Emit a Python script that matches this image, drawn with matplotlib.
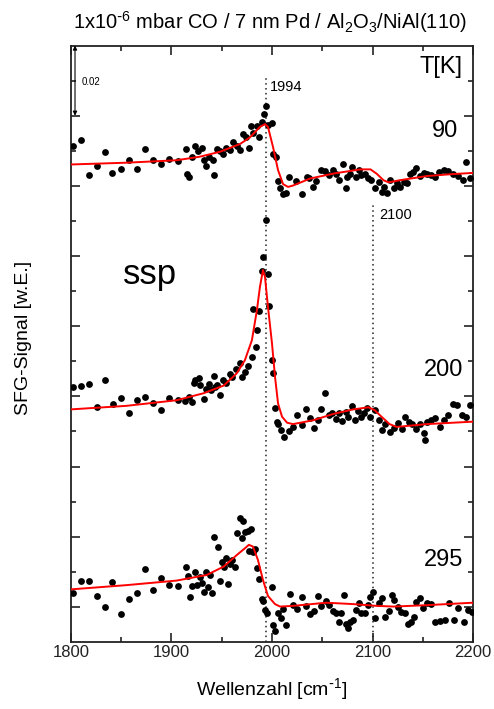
import matplotlib
matplotlib.use("Agg")
import matplotlib.pyplot as plt
from matplotlib.ticker import MultipleLocator, FixedLocator

plt.rcParams['font.family'] = ['Liberation Sans', 'DejaVu Sans']
plt.rcParams['mathtext.default'] = 'regular'

# --- 90 K spectrum (measured points + fit) ---
wn_90 = [1802, 1810, 1818, 1826, 1834, 1841, 1850, 1858, 1866, 1874, 1882, 1890, 1898, 1906,
         1914, 1915, 1917, 1920, 1923, 1926, 1930, 1932, 1934, 1937, 1942, 1941, 1945, 1948,
         1951, 1954, 1958, 1961, 1965, 1968, 1971, 1974, 1977, 1979, 1981, 1985, 1987, 1990,
         1992, 1994, 1996, 2000, 2001, 2004, 2006, 2008, 2011, 2014, 2017, 2024, 2030, 2035,
         2037, 2041, 2044, 2049, 2053, 2057, 2061, 2064, 2067, 2071, 2074, 2075, 2078, 2080,
         2084, 2087, 2089, 2093, 2096, 2099, 2102, 2106, 2109, 2111, 2114, 2117, 2121, 2124,
         2127, 2131, 2134, 2137, 2140, 2143, 2147, 2151, 2154, 2158, 2162, 2166, 2171, 2175,
         2180, 2185, 2190, 2193, 2197]
sig_90 = [0.1413, 0.1430, 0.1330, 0.1356, 0.1396, 0.1336, 0.1348, 0.1373, 0.1347, 0.1405,
          0.1375, 0.1362, 0.1377, 0.1370, 0.1405, 0.1335, 0.1326, 0.1383, 0.1415, 0.1398,
          0.1409, 0.1373, 0.1358, 0.1381, 0.1330, 0.1375, 0.1404, 0.1400, 0.1392, 0.1409,
          0.1402, 0.1426, 0.1413, 0.1402, 0.1447, 0.1440, 0.1407, 0.1472, 0.1451, 0.1472,
          0.1440, 0.1482, 0.1506, 0.1527, 0.1474, 0.1478, 0.1392, 0.1383, 0.1314, 0.1293,
          0.1278, 0.1280, 0.1326, 0.1313, 0.1278, 0.1326, 0.1322, 0.1297, 0.1313, 0.1345,
          0.1341, 0.1331, 0.1345, 0.1335, 0.1316, 0.1362, 0.1293, 0.1324, 0.1335, 0.1354,
          0.1326, 0.1345, 0.1330, 0.1335, 0.1321, 0.1316, 0.1293, 0.1311, 0.1283, 0.1297,
          0.1280, 0.1316, 0.1293, 0.1307, 0.1297, 0.1311, 0.1307, 0.1335, 0.1340, 0.1352,
          0.1328, 0.1337, 0.1335, 0.1330, 0.1326, 0.1339, 0.1345, 0.1343, 0.1333, 0.1328,
          0.1316, 0.1368, 0.1321]
fit_wn_90 = [1800, 1855, 1905, 1928, 1948, 1968, 1978, 1988, 1993, 1996, 2001, 2006, 2011,
             2016, 2021, 2038, 2061, 2088, 2098, 2104, 2111, 2116, 2127, 2154, 2177, 2200]
fit_90 = [0.1361, 0.1366, 0.1373, 0.1383, 0.1397, 0.1419, 0.1438, 0.1468, 0.1476, 0.1468,
          0.1411, 0.1345, 0.1305, 0.1297, 0.1301, 0.1321, 0.1335, 0.1347, 0.1347, 0.1335,
          0.1316, 0.1310, 0.1316, 0.1328, 0.1333, 0.1337]

# --- 200 K spectrum ---
wn_200 = [1802, 1810, 1818, 1826, 1834, 1842, 1850, 1858, 1866, 1874, 1882, 1890, 1898, 1906,
          1913, 1917, 1920, 1922, 1923, 1927, 1928, 1932, 1934, 1937, 1939, 1942, 1943, 1945,
          1948, 1951, 1954, 1958, 1960, 1964, 1968, 1970, 1973, 1976, 1980, 1981, 1984, 1985,
          1987, 1990, 1991, 1994, 1996, 1997, 2000, 2001, 2003, 2005, 2006, 2009, 2012, 2017,
          2021, 2025, 2030, 2034, 2038, 2042, 2046, 2049, 2053, 2057, 2060, 2064, 2067, 2070,
          2074, 2076, 2080, 2083, 2086, 2089, 2092, 2095, 2098, 2102, 2106, 2109, 2112, 2117,
          2121, 2125, 2129, 2132, 2136, 2139, 2143, 2147, 2151, 2152, 2154, 2158, 2162, 2167,
          2171, 2175, 2180, 2184, 2189, 2193, 2197]
sig_200 = [0.0726, 0.0729, 0.0735, 0.0670, 0.0746, 0.0678, 0.0695, 0.0652, 0.0689, 0.0697,
           0.0680, 0.0661, 0.0694, 0.0689, 0.0687, 0.0699, 0.0684, 0.0737, 0.0746, 0.0751,
           0.0732, 0.0693, 0.0720, 0.0735, 0.0718, 0.0758, 0.0727, 0.0732, 0.0703, 0.0748,
           0.0737, 0.0764, 0.0756, 0.0779, 0.0794, 0.0756, 0.0770, 0.0786, 0.0811, 0.0950,
           0.0840, 0.0889, 0.0944, 0.1058, 0.1096, 0.1202, 0.1050, 0.0957, 0.0803, 0.0767,
           0.0666, 0.0628, 0.0621, 0.0604, 0.0583, 0.0602, 0.0613, 0.0647, 0.0618, 0.0663,
           0.0637, 0.0609, 0.0632, 0.0663, 0.0709, 0.0648, 0.0653, 0.0636, 0.0652, 0.0629,
           0.0656, 0.0640, 0.0672, 0.0634, 0.0659, 0.0640, 0.0652, 0.0666, 0.0642, 0.0661,
           0.0634, 0.0604, 0.0621, 0.0598, 0.0609, 0.0623, 0.0606, 0.0640, 0.0628, 0.0621,
           0.0606, 0.0621, 0.0595, 0.0575, 0.0628, 0.0632, 0.0637, 0.0612, 0.0634, 0.0647,
           0.0678, 0.0675, 0.0647, 0.0642, 0.0675]
fit_wn_200 = [1800, 1855, 1905, 1932, 1952, 1965, 1973, 1980, 1985, 1988, 1991, 1993, 1996,
              2000, 2003, 2006, 2010, 2015, 2021, 2041, 2061, 2081, 2096, 2102, 2109, 2117,
              2124, 2154, 2200]
fit_200 = [0.0663, 0.0673, 0.0689, 0.0709, 0.0731, 0.0766, 0.0803, 0.0860, 0.0946, 0.1012,
           0.1060, 0.1041, 0.0955, 0.0851, 0.0756, 0.0680, 0.0642, 0.0625, 0.0621, 0.0632,
           0.0650, 0.0663, 0.0669, 0.0661, 0.0642, 0.0621, 0.0613, 0.0621, 0.0628]

# --- 295 K spectrum ---
wn_295 = [1802, 1810, 1818, 1826, 1834, 1841, 1850, 1858, 1866, 1874, 1882, 1890, 1898, 1906,
          1914, 1916, 1918, 1920, 1923, 1925, 1928, 1930, 1932, 1934, 1936, 1938, 1940, 1942,
          1946, 1948, 1950, 1952, 1954, 1956, 1958, 1960, 1963, 1965, 1968, 1970, 1971, 1973,
          1976, 1979, 1977, 1981, 1983, 1985, 1987, 1990, 1991, 1993, 1995, 2000, 2001, 2003,
          2006, 2009, 2011, 2014, 2018, 2021, 2025, 2030, 2034, 2038, 2042, 2046, 2049, 2054,
          2057, 2061, 2064, 2067, 2069, 2072, 2074, 2076, 2078, 2081, 2084, 2087, 2089, 2093,
          2096, 2098, 2100, 2102, 2106, 2109, 2112, 2116, 2119, 2121, 2125, 2128, 2132, 2135,
          2138, 2141, 2143, 2147, 2150, 2154, 2158, 2162, 2167, 2172, 2176, 2181, 2185, 2191,
          2195, 2199]
sig_295 = [0.0139, 0.0175, 0.0175, 0.0132, 0.0099, 0.0170, 0.0079, 0.0123, 0.0140, 0.0209,
           0.0148, 0.0182, 0.0163, 0.0160, 0.0213, 0.0188, 0.0129, 0.0160, 0.0200, 0.0162,
           0.0186, 0.0169, 0.0142, 0.0199, 0.0156, 0.0191, 0.0140, 0.0298, 0.0270, 0.0173,
           0.0229, 0.0215, 0.0238, 0.0165, 0.0222, 0.0234, 0.0215, 0.0310, 0.0354, 0.0295,
           0.0345, 0.0313, 0.0317, 0.0321, 0.0259, 0.0257, 0.0264, 0.0211, 0.0179, 0.0123,
           0.0117, 0.0091, 0.0082, 0.0158, 0.0048, 0.0032, 0.0082, 0.0068, 0.0093, 0.0048,
           0.0137, 0.0105, 0.0093, 0.0129, 0.0103, 0.0080, 0.0087, 0.0132, 0.0103, 0.0118,
           0.0105, 0.0089, 0.0082, 0.0058, 0.0082, 0.0133, 0.0051, 0.0039, 0.0058, 0.0063,
           0.0091, 0.0110, 0.0083, 0.0082, 0.0105, 0.0129, 0.0142, 0.0068, 0.0110, 0.0125,
           0.0072, 0.0089, 0.0135, 0.0120, 0.0101, 0.0086, 0.0083, 0.0051, 0.0058, 0.0070,
           0.0115, 0.0125, 0.0096, 0.0110, 0.0108, 0.0058, 0.0061, 0.0063, 0.0112, 0.0063,
           0.0096, 0.0058, 0.0091, 0.0086]
fit_wn_295 = [1800, 1855, 1905, 1935, 1952, 1965, 1973, 1977, 1981, 1986, 1991, 1996, 2003,
              2008, 2021, 2054, 2081, 2104, 2121, 2154, 2200]
fit_295 = [0.0150, 0.0162, 0.0175, 0.0191, 0.0215, 0.0248, 0.0267, 0.0277, 0.0272, 0.0234,
           0.0177, 0.0131, 0.0108, 0.0101, 0.0103, 0.0112, 0.0108, 0.0103, 0.0101, 0.0105,
           0.0112]

temps = ['90', '200', '295']
label_y = [0.1455, 0.0775, 0.0235]

fig = plt.figure(figsize=(4.94, 7.09), dpi=100)
ax = fig.add_axes([0.1437, 0.0945, 0.8138, 0.8413])

# reference lines at the two band positions
ax.plot([1994, 1994], [0, 0.1607], color='#222222', lw=1.1, ls=(0, (1, 2.2)))
ax.plot([2100, 2100], [0, 0.1250], color='#222222', lw=1.1, ls=(0, (1, 2.2)))

for wn, sig, fwn, fit in [(wn_90, sig_90, fit_wn_90, fit_90),
                          (wn_200, sig_200, fit_wn_200, fit_200),
                          (wn_295, sig_295, fit_wn_295, fit_295)]:
    ax.scatter(wn, sig, s=24, color='black', linewidths=0, zorder=3)
    ax.plot(fwn, fit, color='red', lw=1.4, zorder=4)

ax.set_xlim(1800, 2200)
ax.set_ylim(0, 0.17)
ax.xaxis.set_major_locator(MultipleLocator(100))
ax.xaxis.set_minor_locator(MultipleLocator(50))
ax.yaxis.set_major_locator(FixedLocator([0.01 + 0.02 * i for i in range(8)]))
ax.yaxis.set_minor_locator(FixedLocator([0.02 * i for i in range(1, 9)]))
ax.tick_params(which='both', direction='in', top=True, right=True, colors='#222222',
               width=1.2)
ax.tick_params(which='major', length=6.5, labelsize=12, pad=2)
ax.tick_params(which='minor', length=3.5)
ax.tick_params(axis='y', labelleft=False)
for sp in ax.spines.values():
    sp.set_linewidth(1.3)
    sp.set_color('#222222')

# scale bar
ax.annotate('', xy=(1804, 0.1500), xytext=(1804, 0.1700),
            arrowprops=dict(arrowstyle='<|-|>', color='black', lw=0.8,
                            mutation_scale=6, shrinkA=0, shrinkB=0))
ax.text(1811, 0.1595, '0.02', fontsize=7, va='center', ha='left')

ax.text(1998, 0.1583, '1994', fontsize=10.5, va='center', ha='left')
ax.text(2107, 0.1218, '2100', fontsize=10.5, va='center', ha='left')
ax.text(1852, 0.1020, 'ssp', fontsize=25, va='baseline', ha='left')
ax.text(2190, 0.1640, 'T[K]', fontsize=17, va='center', ha='right')
for t, y in zip(temps, label_y):
    ax.text(2185 if t == '90' else 2190, y, t, fontsize=17, va='center', ha='right')

ax.set_xlabel(r'Wellenzahl [cm$^{\text{-}1}$]', fontsize=14, labelpad=12)
fig.text(23 / 494, 1 - 338 / 709, 'SFG-Signal [w.E.]', fontsize=14,
         rotation=90, ha='center', va='center')
fig.text(270 / 494, 1 - 22 / 709,
         r'1x10$^{\text{-}6}$ mbar CO / 7 nm Pd / Al$_2$O$_3$/NiAl(110)',
         fontsize=14.5, ha='center', va='center')

fig.savefig('out.png', dpi=100)
